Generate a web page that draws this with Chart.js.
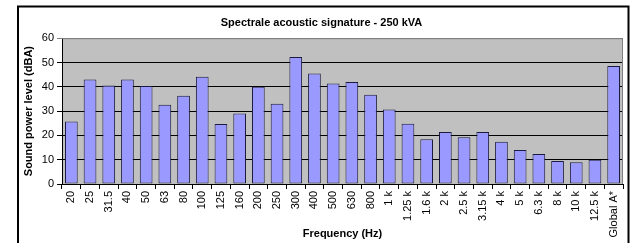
<!DOCTYPE html>
<html>
<head>
<meta charset="utf-8">
<script src="https://cdn.jsdelivr.net/npm/chart.js@4"></script>
<style>
  html, body { margin: 0; padding: 0; background: #fff; }
  #wrap { width: 630px; height: 243px; }
</style>
</head>
<body>
<div id="wrap"><canvas id="c" width="630" height="243"></canvas></div>
<script>
// ─── DATA ─────────────────────────────────────────────────────────────
const freqLabels = ['20', '25', '31.5', '40', '50', '63', '80', '100', '125', '160',
  '200', '250', '300', '400', '500', '630', '800', '1 k', '1.25 k', '1.6 k',
  '2 k', '2.5 k', '3.15 k', '4 k', '5 k', '6.3 k', '8 k', '10 k', '12.5 k', 'Global A*'];
const powerLevels = [25.7, 43.0, 40.5, 43.0, 40.3, 32.6, 36.3, 44.1, 24.7, 29.0,
  40.0, 33.0, 52.3, 45.5, 41.4, 42.0, 36.7, 30.7, 24.8, 18.4,
  21.4, 19.2, 21.4, 17.4, 14.0, 12.3, 9.5, 8.9, 10.0, 48.6];
const yTicks = [0, 10, 20, 30, 40, 50, 60];

const FONT = '"Liberation Sans", Arial, sans-serif';

// plot background + grey top/right frame, and the outer chart border
const frame = {
  id: 'frame',
  beforeDraw(chart) {
    const { ctx, chartArea: { left, right, top, bottom } } = chart;
    ctx.save();
    ctx.fillStyle = '#c0c0c0';
    ctx.fillRect(left, top, right - left, bottom - top);
    ctx.restore();
  },
  afterDraw(chart) {
    const { ctx, chartArea: { left, right, top, bottom } } = chart;
    ctx.save();
    ctx.strokeStyle = '#808080';
    ctx.lineWidth = 1;
    ctx.beginPath();
    ctx.moveTo(left, top + 0.5);
    ctx.lineTo(right - 0.5, top + 0.5);
    ctx.lineTo(right - 0.5, bottom);
    ctx.stroke();
    ctx.strokeStyle = '#000';
    ctx.lineWidth = 2;
    ctx.strokeRect(18, 6.5, 610.5, 300);
    ctx.restore();
  },
};

new Chart(document.getElementById('c'), {
  type: 'bar',
  data: {
    labels: freqLabels,
    datasets: [{
      data: powerLevels,
      backgroundColor: '#9999ff',
      borderColor: '#1a1a40',
      borderWidth: 1,
      borderSkipped: false,
      categoryPercentage: 1,
      barPercentage: 0.68,
    }],
  },
  options: {
    responsive: false,
    animation: false,
    layout: { padding: { left: 20, right: 7, top: 0, bottom: 0 } },
    plugins: {
      legend: { display: false },
      tooltip: { enabled: false },
      title: {
        display: true,
        text: 'Spectrale acoustic signature - 250 kVA',
        color: '#000',
        font: { family: FONT, size: 11, weight: 'bold' },
        padding: { top: 16, bottom: 9 },
      },
    },
    scales: {
      x: {
        afterFit: s => { s.height = 59; },
        grid: { offset: true, drawOnChartArea: false, tickLength: 5, color: '#000' },
        border: { color: '#000' },
        ticks: {
          autoSkip: false, minRotation: 90, maxRotation: 90, padding: 2,
          color: '#000', font: { family: FONT, size: 11 },
        },
        title: {
          display: true, text: 'Frequency (Hz)', color: '#000',
          font: { family: FONT, size: 11, weight: 'bold' },
          padding: { top: 0, bottom: 2 },
        },
      },
      y: {
        min: 0, max: 60,
        afterFit: s => { s.width = 42; },
        afterBuildTicks: s => { s.ticks = yTicks.map(v => ({ value: v })); },
        grid: {
          tickLength: 5,
          color: c => c.tick && c.tick.value === 60 ? '#808080' : '#000',
        },
        border: { color: '#000' },
        ticks: { padding: 3, color: '#000', font: { family: FONT, size: 11 } },
        title: {
          display: true, text: 'Sound power level (dBA)', color: '#000',
          font: { family: FONT, size: 11, weight: 'bold' },
          padding: { top: 2, bottom: 0 },
        },
      },
    },
  },
  plugins: [frame],
});
</script>
</body>
</html>
